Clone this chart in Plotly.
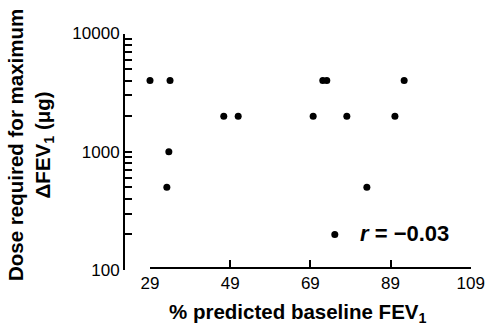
import plotly.graph_objects as go

# Data
fev_pct = [29, 34, 47.4, 51, 69.7, 72.1, 73.1, 78.1, 90.1, 92.4, 33.7, 33.2, 83.1, 75.1]
dose_ug = [4000, 4000, 2000, 2000, 2000, 4000, 4000, 2000, 2000, 4000, 1000, 500, 500, 200]

x_ticks = [29, 49, 69, 89, 109]
y_tickvals = [100, 200, 300, 400, 500, 600, 700, 800, 900,
              1000, 2000, 3000, 4000, 5000, 6000, 7000, 8000, 9000, 10000]
y_ticktext = ["100", "", "", "", "", "", "", "", "",
              "1000", "", "", "", "", "", "", "", "", "10000"]

r_label = "<i>r</i> = −0.03"
x_title = "% predicted baseline FEV<sub>1</sub>"
y_title = "Dose required for maximum<br>ΔFEV<sub>1</sub> (μg)"

W, H = 486, 326
FONT = "Liberation Sans, Arial, sans-serif"

def fx(px):
    return px / W

def fy(py):
    return (H - py) / H

# pixel geometry of the drawing
X_LEFT_AXIS = 125.0   # y-axis line
X_START = 150.0       # x = first tick
X_END = 470.7         # x = last tick
Y_TOP = 33.5          # y = 10^4
Y_BOT = 270.0         # y = 10^2
Y_XLINE = 267.0       # detached x-axis line

x_lo, x_hi = x_ticks[0], x_ticks[-1]
ppu = (X_END - X_START) / (x_hi - x_lo)
x_main_lo = x_lo - (X_START - X_LEFT_AXIS) / ppu

fig = go.Figure()
fig.add_trace(go.Scatter(
    x=fev_pct, y=dose_ug, mode="markers",
    marker=dict(color="black", size=7, line=dict(width=0)),
    showlegend=False, hoverinfo="x+y",
    xaxis="x", yaxis="y",
))
# empty trace so the detached x-axis subplot is created
fig.add_trace(go.Scatter(x=[], y=[], xaxis="x2", yaxis="y2",
                         showlegend=False, hoverinfo="skip"))

tick_font = dict(size=17, family=FONT, color="black")
NOGRID = "rgba(0,0,0,0)"

fig.update_layout(
    template="none",
    width=W, height=H,
    margin=dict(l=0, r=0, t=0, b=0),
    paper_bgcolor="white", plot_bgcolor="rgba(0,0,0,0)",
    font=dict(family=FONT, color="black"),
    xaxis=dict(
        domain=[fx(X_LEFT_AXIS), fx(X_END)],
        range=[x_main_lo, x_hi],
        anchor="y",
        showline=False, showticklabels=False, ticks="",
        gridcolor=NOGRID,
    ),
    yaxis=dict(
        type="log",
        domain=[fy(Y_BOT), fy(Y_TOP)],
        range=[2, 4],
        anchor="x", side="left",
        tickmode="array",
        tickvals=y_tickvals, ticktext=y_ticktext,
        ticks="inside", ticklen=7, tickwidth=2, tickcolor="black",
        showline=True, linewidth=2, linecolor="black",
        gridcolor=NOGRID,
        tickfont=tick_font,
    ),
    xaxis2=dict(
        domain=[fx(X_START), fx(X_END)],
        range=[x_lo, x_hi],
        anchor="y2",
        tickmode="array",
        tickvals=x_ticks, ticktext=[str(v) for v in x_ticks],
        ticks="inside", ticklen=7, tickwidth=2, tickcolor="black",
        showline=True, linewidth=2, linecolor="black",
        gridcolor=NOGRID,
        tickfont=tick_font,
    ),
    yaxis2=dict(
        domain=[fy(Y_XLINE), fy(Y_TOP)],
        range=[0, 1],
        anchor="x2",
        showline=False, showticklabels=False, ticks="",
        gridcolor=NOGRID,
    ),
    annotations=[
        dict(text=r_label, xref="paper", yref="paper",
             x=fx(358), y=fy(233), xanchor="left", yanchor="middle",
             showarrow=False, font=dict(size=22, family=FONT, color="black", weight="bold")),
        dict(text=x_title, xref="paper", yref="paper",
             x=fx(298), y=fy(313), xanchor="center", yanchor="middle",
             showarrow=False, font=dict(size=20.5, family=FONT, color="black", weight="bold")),
        dict(text=y_title, xref="paper", yref="paper",
             x=fx(30), y=fy(145), xanchor="center", yanchor="middle",
             textangle=-90, showarrow=False,
             font=dict(size=20.5, family=FONT, color="black", weight="bold")),
    ],
)

fig.write_html(
    "out.html",
    config={"displayModeBar": False},
    post_script="document.body.style.margin='0';document.body.style.overflow='hidden';",
)
